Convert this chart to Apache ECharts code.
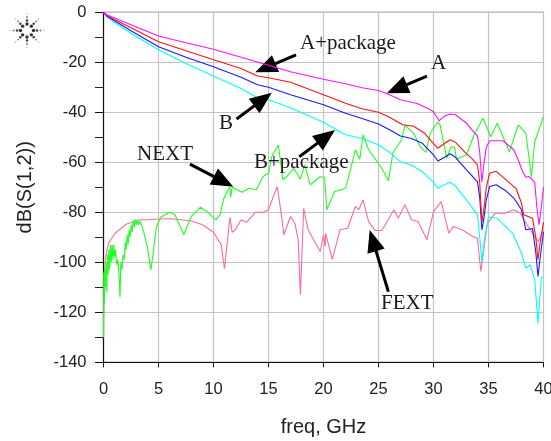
<!DOCTYPE html>
<html><head><meta charset="utf-8">
<style>html,body{margin:0;padding:0;background:#fff;overflow:hidden}#c{width:551px;height:441px}</style>
<script src="https://cdn.jsdelivr.net/npm/echarts@6/dist/echarts.min.js"></script></head>
<body><div id="c"></div>
<script>
var xTicks=[0,5,10,15,20,25,30,35,40];
var yTicks=[0,-20,-40,-60,-80,-100,-120,-140];
var seriesA=[[0,0],[0.3,-1],[1,-2.3],[2.5,-5],[5,-9.5],[7.5,-12.2],[10,-14.8],[12.5,-18],[15,-21.2],[17,-23.8],[20,-26.8],[22,-28.6],[23.5,-30.2],[25,-31.3],[26,-33],[27,-35],[28.5,-36.5],[29.5,-38.5],[30,-39.8],[30.5,-43.4],[31,-41.5],[31.5,-40.7],[32,-41],[33,-44.4],[33.5,-47],[34,-49.5],[34.2,-56],[34.4,-68],[34.6,-60],[34.8,-54],[35.1,-51.4],[36.3,-51.4],[37.3,-55],[37.7,-59],[38.1,-63.8],[38.4,-66],[38.7,-65.7],[39.2,-68],[39.4,-78],[39.6,-85],[39.8,-78],[40,-70]];
var seriesAPkg=[[0,0],[0.3,-1.3],[1,-2.9],[2.5,-6.2],[5,-11.8],[7.5,-15.4],[10,-19],[12.5,-22.5],[14,-25.5],[15,-26.2],[17,-28],[20,-33],[22,-36.4],[23.5,-38.6],[25,-40],[26,-42],[27.2,-45],[28.2,-45.6],[29.2,-48.4],[30,-52.5],[30.4,-54.4],[31,-52.5],[31.5,-51],[32,-52],[33,-56.6],[33.5,-58.5],[34,-61],[34.2,-68],[34.4,-84],[34.6,-78],[34.8,-70],[35.1,-64.4],[35.7,-63.6],[36.6,-67],[37.5,-70.4],[38,-76.4],[38.2,-81],[39,-82.4],[39.3,-90],[39.5,-99],[39.7,-92],[40,-84]];
var seriesB=[[0,0],[0.3,-1.5],[1,-3.4],[2.5,-7.4],[5,-13.8],[7.5,-18],[10,-21.8],[12.5,-26],[14,-29],[15,-30],[17,-33],[20,-37],[22,-40.4],[23.5,-42.5],[25,-44.7],[26,-47],[27,-49.5],[28,-50.5],[29,-52.4],[30,-57],[30.4,-59.5],[31,-58],[31.5,-56.6],[32,-58],[33,-63],[34,-67.8],[34.2,-74],[34.4,-87],[34.6,-82],[34.8,-75],[35.1,-69.7],[35.7,-69],[36.6,-71.5],[37.3,-74.3],[38,-79],[38.4,-87],[39,-86.5],[39.3,-96],[39.5,-105.7],[39.7,-98],[40,-88]];
var seriesBPkg=[[0,0],[0.3,-1.8],[1,-4],[2.5,-8.4],[5,-15],[7.5,-20.5],[10,-25.5],[12.5,-30.5],[14,-34.2],[15,-35],[17,-38.2],[20,-44],[22,-49],[23.5,-50.5],[25,-53],[26,-56],[27,-59.8],[28,-61.2],[29,-63.8],[30,-68],[30.4,-70.4],[31,-69],[31.5,-68],[32,-69.5],[33,-75],[34,-81],[34.2,-90],[34.4,-99.8],[34.6,-92],[35,-81.8],[35.8,-82.4],[37.2,-88.4],[38,-96.4],[38.4,-102.4],[38.8,-101],[39.2,-107],[39.5,-124.5],[39.8,-106],[40,-106]];
var seriesNext=[[0,-130],[0.04,-104],[0.08,-117],[0.13,-103],[0.18,-110],[0.23,-100],[0.3,-112],[0.36,-97],[0.42,-105],[0.48,-95],[0.55,-103],[0.62,-93],[0.7,-100],[0.78,-93],[0.86,-99],[0.94,-93],[1.02,-98],[1.1,-95],[1.2,-101],[1.3,-99],[1.42,-106],[1.5,-114],[1.58,-100],[1.68,-103],[1.78,-97],[1.88,-99],[1.98,-92],[2.06,-95],[2.15,-89],[2.24,-93],[2.33,-87],[2.42,-90],[2.52,-85],[2.6,-88],[2.7,-83],[2.8,-86],[2.9,-82.8],[3,-85],[3.1,-83],[3.2,-85],[3.35,-83.5],[3.6,-87],[4,-94],[4.3,-103],[4.5,-97],[4.8,-86],[5.2,-82],[6,-80],[6.5,-81],[7.3,-89],[8,-81.5],[8.8,-78],[9.5,-80],[10.2,-83],[10.6,-81],[10.9,-75],[11.2,-72],[11.5,-70],[11.55,-74],[11.7,-70],[12.6,-72],[13.2,-70.4],[13.9,-71],[14.5,-65.7],[15,-64.4],[15.3,-57.7],[15.9,-53],[16.3,-67],[16.6,-66],[17.3,-62.4],[17.9,-66.8],[18.3,-61],[18.8,-69],[19.7,-65.8],[20.1,-66],[20.3,-79],[20.4,-79],[21,-71.8],[22,-70.4],[22.4,-63.8],[22.9,-55],[23.3,-58.8],[23.6,-49],[24.1,-55],[25.3,-62.4],[25.9,-67.4],[26.3,-56.4],[27.1,-51],[27.4,-45],[28.2,-48.4],[28.8,-53.8],[29.3,-56],[29.7,-48.4],[30.4,-43.8],[30.6,-45],[31.2,-58.4],[31.6,-53.8],[31.9,-53.8],[32.1,-58.8],[33,-57],[33.7,-49],[34.5,-42.4],[35.2,-49.8],[35.8,-44.4],[36.9,-55.8],[37.7,-45],[38.4,-48.4],[38.9,-65.8],[39.2,-51.8],[40,-41.8]];
var seriesFext=[[0,-130],[0.05,-105],[0.2,-98],[0.45,-92.4],[1.05,-88.4],[2.1,-84.7],[3.3,-83],[4,-83],[6,-82.5],[8,-83.5],[9,-85],[10,-88],[10.7,-93],[11,-102.5],[11.3,-90],[11.5,-82],[11.7,-88],[12,-87],[12.5,-83],[13,-84],[13.8,-80],[14.5,-80],[15,-79],[15.5,-73],[15.8,-69.8],[16.2,-81.8],[16.4,-89],[17,-81.7],[17.4,-84.4],[17.7,-91],[17.9,-113],[18.2,-78.4],[18.6,-87],[19.1,-91],[19.7,-95.7],[20,-89],[20.15,-93.7],[20.2,-88.4],[20.8,-98.8],[21.5,-87],[22.2,-86.4],[22.9,-77.7],[23.2,-79],[23.6,-75],[24.1,-83.7],[24.7,-87.3],[25.3,-87.3],[26.4,-79],[26.8,-82.4],[27.4,-77],[28,-83],[28.6,-83.7],[29.4,-91],[30,-79.7],[30.7,-75.7],[31.4,-88.4],[31.8,-85.7],[32.6,-87],[33.5,-89.5],[34,-90.4],[34.3,-103.7],[34.9,-84.4],[35.6,-80.4],[36.5,-80.4],[37.3,-79],[37.9,-80.4],[38.5,-85],[39,-88.4],[39.5,-91.7],[40,-87.3]];

function line(name,data,color,z){return {name:name,type:'line',data:data,showSymbol:false,symbol:'none',z:z,lineStyle:{color:color,width:1.1},silent:true};}
// the head symbol is centred on its end point, so stop the line half a head short of the tip
function arrow(a,b,c,d){
  var dx=(c-a)*11, dy=(d-b)*2.5, len=Math.sqrt(dx*dx+dy*dy), back=11/len;
  return [{coord:[a,b]},{coord:[c-(c-a)*back,d-(d-b)*back]}];
}
function note(t,x,y){return {type:'text',left:x,top:y,z:50,style:{text:t,fill:'#1a1a1a',font:'21px "Liberation Serif"'}};}

var logo=[];
for(var k=0;k<8;k++){
  var ang=k*Math.PI/4, diag=k%2===1;
  [[6.5,1.7,'#333'],[10,1.3,'#444'],[13.5,0.9,'#777'],[17,0.6,'#999']].forEach(function(d){
    var r=diag?d[0]*0.95:d[0];
    logo.push({type:'circle',shape:{cx:27+r*Math.cos(ang),cy:30.5+r*Math.sin(ang),r:d[1]},style:{fill:d[2]},silent:true});
  });
}

var chart=echarts.init(document.getElementById('c'),null,{renderer:'canvas'});
chart.setOption({
  animation:false,backgroundColor:'#fff',
  grid:{left:103.5,right:7.5,top:12.3,bottom:78.7,outerBoundsMode:'none',containLabel:false,show:true,borderColor:'#333',borderWidth:1,backgroundColor:'transparent'},
  xAxis:{type:'value',min:0,max:40,interval:5,
    name:'freq, GHz',nameLocation:'middle',nameGap:55,
    nameTextStyle:{fontFamily:'Liberation Sans',fontSize:20,color:'#222'},
    axisLine:{show:true,onZero:false,lineStyle:{color:'#111',width:1.2}},
    axisTick:{show:true,length:5,lineStyle:{color:'#111'}},
    axisLabel:{margin:19,fontFamily:'Liberation Sans',fontSize:16.5,color:'#222',showMinLabel:true,showMaxLabel:true,
      formatter:function(v){return xTicks.indexOf(v)>=0?String(v):'';}},
    splitLine:{show:true,lineStyle:{color:'#c4c4c4',width:1.2}}},
  yAxis:{type:'value',min:-140,max:0,interval:20,
    name:'dB(S(1,2))',nameLocation:'middle',nameGap:68,nameRotate:90,
    nameTextStyle:{fontFamily:'Liberation Sans',fontSize:20,color:'#222'},
    axisLine:{show:true,onZero:false,lineStyle:{color:'#111',width:1.2}},
    axisTick:{show:true,length:8.5,lineStyle:{color:'#111'}},
    minorTick:{show:true,splitNumber:2,length:8.5,lineStyle:{color:'#222'}},
    axisLabel:{margin:17,fontFamily:'Liberation Sans',fontSize:16.5,color:'#222',
      formatter:function(v){return yTicks.indexOf(v)>=0?String(v):'';}},
    splitLine:{show:true,lineStyle:{color:'#c4c4c4',width:1.2}}},
  series:[
    line('FEXT',seriesFext,'#ff69a5',2),
    line('NEXT',seriesNext,'#22ff22',3),
    line('B+package',seriesBPkg,'#00ffff',4),
    line('B',seriesB,'#1818ff',5),
    line('A+package',seriesAPkg,'#ff1010',6),
    line('A',seriesA,'#ff10ff',7),
    {type:'line',data:[],z:20,silent:true,showSymbol:false,
      markLine:{silent:true,animation:false,symbol:['none','triangle'],symbolSize:[18,22],precision:3,label:{show:false},
        lineStyle:{color:'#000',width:3,type:'solid'},emphasis:{disabled:true},
        data:[arrow(17.5,-17,13.8,-24),arrow(29.4,-25.5,25.75,-32.4),arrow(12.1,-42.7,15.3,-32.2),
              arrow(7.86,-60.7,11.8,-69.8),arrow(17.8,-57.8,21.05,-47.1),arrow(25.9,-111.8,24.2,-87.1)]}}
  ],
  graphic:logo.concat([
    note('A+package',300,33),note('A',431,53),note('B',219,113),
    note('NEXT',137,144),note('B+package',254,152),note('FEXT',381,293)
  ])
});
</script></body></html>
